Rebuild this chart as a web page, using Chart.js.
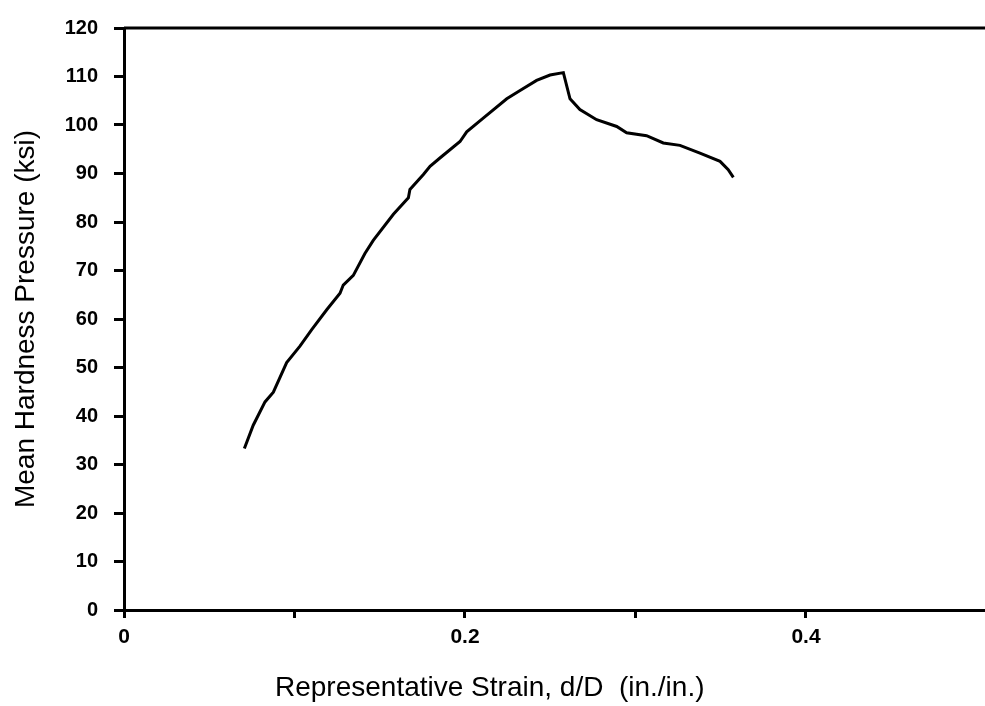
<!DOCTYPE html>
<html>
<head>
<meta charset="utf-8">
<script src="https://cdn.jsdelivr.net/npm/chart.js@4/dist/chart.umd.min.js"></script>
<style>
  html, body { margin: 0; padding: 0; background: #fff; }
  #wrap { width: 985px; height: 706px; }
</style>
</head>
<body>
<div id="wrap"><canvas id="hardnessChart" width="985" height="706"></canvas></div>
<script>
// strain (in./in.) and mean hardness pressure (ksi)
const strain = [
  0.0706, 0.0758, 0.0827, 0.0876, 0.0954, 0.1032, 0.1101, 0.1189, 0.1267, 0.1286,
  0.1345, 0.1413, 0.1462, 0.1580, 0.1668, 0.1677, 0.1756, 0.1795, 0.1853, 0.1971,
  0.2010, 0.2107, 0.2245, 0.2323, 0.2420, 0.2499, 0.2577, 0.2616, 0.2674, 0.2772,
  0.2890, 0.2948, 0.3065, 0.3163, 0.3261, 0.3378, 0.3496, 0.3544, 0.3574
];
const pressure = [
  33.3, 38.1, 42.9, 44.9, 51.0, 54.4, 57.8, 61.9, 65.3, 67.0,
  69.0, 73.5, 76.2, 81.6, 85.0, 86.7, 89.8, 91.5, 93.2, 96.6,
  98.6, 101.4, 105.4, 107.1, 109.2, 110.3, 110.8, 105.4, 103.2, 101.1,
  99.7, 98.4, 97.8, 96.3, 95.8, 94.2, 92.5, 90.8, 89.2
];

// axis ticks
const xTickValues = [0, 0.1, 0.2, 0.3, 0.4];
const xTickLabels = { 0: '0', 0.2: '0.2', 0.4: '0.4' };
const xMax = 0.505;
const yMax = 120;
const yStep = 10;

const xTitle = 'Representative Strain, d/D  (in./in.)';
const yTitle = 'Mean Hardness Pressure (ksi)';

const FONT = '"Liberation Sans", Arial, Helvetica, sans-serif';

// top frame line + x title (drawn so it can sit left of centre like the original)
const framePlugin = {
  id: 'frame',
  afterDraw(chart) {
    const { ctx, chartArea } = chart;
    ctx.save();
    ctx.strokeStyle = '#000';
    ctx.lineWidth = 3;
    ctx.beginPath();
    ctx.moveTo(chartArea.left, chartArea.top);
    ctx.lineTo(chartArea.right, chartArea.top);
    ctx.stroke();

    ctx.fillStyle = '#000';
    ctx.font = '28px ' + FONT;
    ctx.textAlign = 'left';
    ctx.textBaseline = 'alphabetic';
    ctx.fillText(xTitle, chartArea.left + 151, chartArea.bottom + 86);
    ctx.restore();
  }
};

const ctx = document.getElementById('hardnessChart').getContext('2d');

new Chart(ctx, {
  type: 'line',
  data: {
    datasets: [{
      label: 'Mean hardness pressure',
      data: strain.map((s, i) => ({ x: s, y: pressure[i] })),
      borderColor: '#000',
      borderWidth: 3,
      pointRadius: 0,
      tension: 0,
      fill: false
    }]
  },
  options: {
    responsive: false,
    animation: false,
    layout: { padding: { top: 22, right: 0, bottom: 0, left: 0 } },
    plugins: {
      legend: { display: false },
      tooltip: { enabled: false }
    },
    scales: {
      x: {
        type: 'linear',
        min: 0,
        max: xMax,
        afterBuildTicks: axis => { axis.ticks = xTickValues.map(v => ({ value: v })); },
        afterFit: axis => { axis.height = 96; },
        border: { display: true, color: '#000', width: 3 },
        grid: { drawOnChartArea: false, drawTicks: true, tickLength: 8, color: '#000', lineWidth: 3 },
        ticks: {
          color: '#000',
          padding: 7,
          maxRotation: 0,
          autoSkip: false,
          font: { family: FONT, size: 21, weight: 'bold' },
          callback: v => (xTickLabels[v] !== undefined ? xTickLabels[v] : '')
        },
        title: { display: false }
      },
      y: {
        min: 0,
        max: yMax,
        afterFit: axis => { axis.width = 124; },
        border: { display: true, color: '#000', width: 3 },
        grid: { drawOnChartArea: false, drawTicks: true, tickLength: 10, color: '#000', lineWidth: 3 },
        ticks: {
          stepSize: yStep,
          color: '#000',
          padding: 16,
          font: { family: FONT, size: 20, weight: 'bold' }
        },
        title: {
          display: true,
          text: yTitle,
          color: '#000',
          padding: { top: 9, bottom: 0 },
          font: { family: FONT, size: 28, weight: 'normal' }
        }
      }
    }
  },
  plugins: [framePlugin]
});
</script>
</body>
</html>
